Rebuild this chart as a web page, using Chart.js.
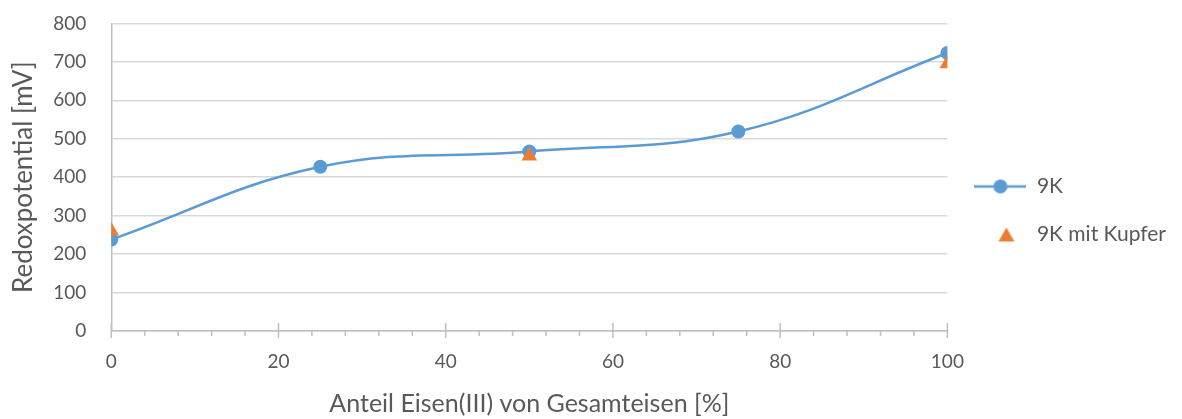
<!DOCTYPE html>
<html>
<head>
<meta charset="utf-8">
<script src="https://cdn.jsdelivr.net/npm/chart.js@4/dist/chart.umd.min.js"></script>
<style>
  body { margin: 0; background: #fff; }
  #wrap { width: 1182px; height: 419px; position: relative; }
</style>
</head>
<body>
<div id="wrap"><canvas id="chart"></canvas></div>
<script>
// values
const xValues = [0, 25, 50, 75, 100];
const redox9K = [238, 427, 467, 519, 723];
const xKupfer = [0, 50, 100];
const redoxKupfer = [260, 455, 695];

const textColor = '#595959';
const fontFamily = 'Lato, "Open Sans", sans-serif';

// legend icons: line with circle, and a triangle
function makeIcon(kind) {
  const c = document.createElement('canvas');
  c.width = 52; c.height = 18;
  const g = c.getContext('2d');
  if (kind === 'line') {
    g.strokeStyle = '#5B9BD5'; g.lineWidth = 2.5;
    g.beginPath(); g.moveTo(0, 9); g.lineTo(52, 9); g.stroke();
    g.fillStyle = '#5B9BD5';
    g.beginPath(); g.arc(26, 9, 7, 0, Math.PI * 2); g.fill();
  } else {
    g.fillStyle = '#ED7D31';
    g.beginPath(); g.moveTo(32, 2); g.lineTo(40, 16); g.lineTo(24, 16); g.closePath(); g.fill();
  }
  return c;
}
const icons = [makeIcon('line'), makeIcon('tri')];

// major / minor tick marks on the x axis
const axisTicks = {
  id: 'axisTicks',
  beforeDatasetsDraw(chart) {
    const sx = chart.scales.x;
    const ctx = chart.ctx;
    const y0 = chart.chartArea.bottom;
    ctx.save();
    ctx.strokeStyle = '#bfbfbf';
    ctx.lineWidth = 1.5;
    sx.ticks.forEach(t => {
      const px = sx.getPixelForValue(t.value);
      const major = t.value % 20 === 0;
      ctx.beginPath();
      ctx.moveTo(px, major ? y0 - 8 : y0);
      ctx.lineTo(px, y0 + (major ? 7 : 5));
      ctx.stroke();
    });
    ctx.restore();
  }
};

new Chart(document.getElementById('chart'), {
  type: 'line',
  data: {
    datasets: [
      {
        label: '9K',
        data: xValues.map((x, i) => ({ x, y: redox9K[i] })),
        borderColor: '#5B9BD5',
        backgroundColor: '#5B9BD5',
        borderWidth: 2.5,
        tension: 0.4,
        pointRadius: 7,
        pointHoverRadius: 7,
        pointBorderWidth: 0,
        order: 1
      },
      {
        label: '9K mit Kupfer',
        data: xKupfer.map((x, i) => ({ x, y: redoxKupfer[i] })),
        showLine: false,
        borderColor: '#ED7D31',
        backgroundColor: '#ED7D31',
        pointStyle: 'triangle',
        pointRadius: 9,
        pointHoverRadius: 9,
        pointBorderWidth: 0,
        order: 0
      }
    ]
  },
  options: {
    responsive: true,
    maintainAspectRatio: false,
    animation: false,
    layout: { padding: { top: 2, bottom: 0, left: 0, right: 6 } },
    scales: {
      x: {
        type: 'linear',
        min: 0,
        max: 100,
        afterFit: scale => { scale.height = 88; },
        grid: { drawOnChartArea: false, drawTicks: false },
        border: { display: true, color: '#bfbfbf', width: 1.5 },
        ticks: {
          stepSize: 4,
          autoSkip: false,
          maxRotation: 0,
          padding: 19,
          color: textColor,
          font: { family: fontFamily, size: 19 },
          callback: v => (v % 20 === 0 ? v : '')
        },
        title: {
          display: true,
          text: 'Anteil Eisen(III) von Gesamteisen [%]',
          color: textColor,
          font: { family: fontFamily, size: 25 },
          padding: { top: 16, bottom: 0 }
        }
      },
      y: {
        min: 0,
        max: 800,
        grid: {
          color: '#d9d9d9',
          lineWidth: 1.5,
          drawTicks: true,
          tickLength: 13,
          tickColor: 'rgba(0,0,0,0)'
        },
        border: { display: true, color: '#bfbfbf', width: 1.5 },
        ticks: {
          stepSize: 100,
          padding: 12,
          color: textColor,
          font: { family: fontFamily, size: 19 }
        },
        title: {
          display: true,
          text: 'Redoxpotential [mV]',
          color: textColor,
          font: { family: fontFamily, size: 26 },
          padding: { top: 8, bottom: 2 }
        }
      }
    },
    plugins: {
      tooltip: { enabled: false },
      legend: {
        position: 'right',
        labels: {
          usePointStyle: true,
          pointStyleWidth: 52,
          padding: 27,
          color: textColor,
          font: { family: fontFamily, size: 21 },
          sort: (a, b) => a.datasetIndex - b.datasetIndex,
          generateLabels(chart) {
            const items = Chart.defaults.plugins.legend.labels.generateLabels(chart);
            items.forEach(it => { it.pointStyle = icons[it.datasetIndex]; });
            return items;
          }
        }
      }
    }
  },
  plugins: [axisTicks]
});
</script>
</body>
</html>
